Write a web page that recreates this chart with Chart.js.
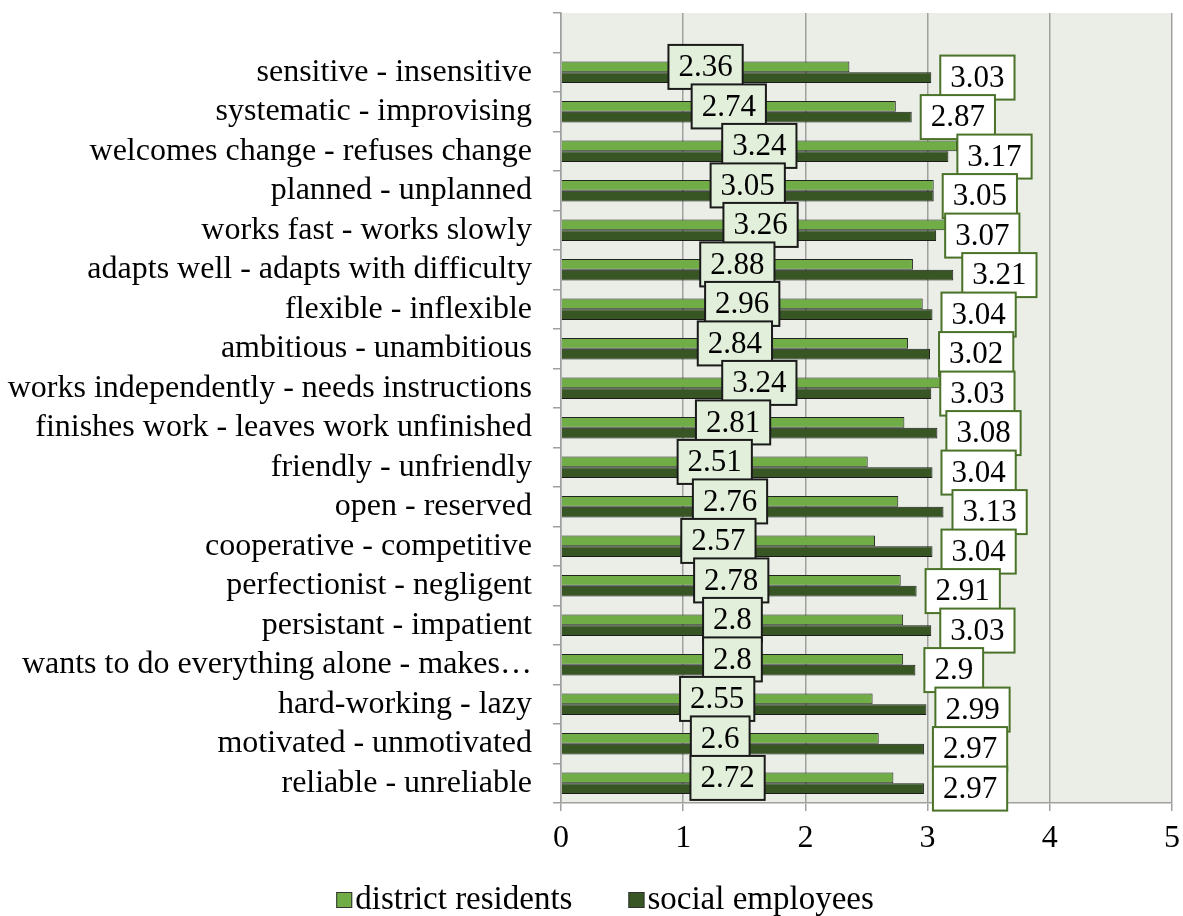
<!DOCTYPE html>
<html lang="en">
<head>
<meta charset="utf-8">
<title>Traits chart</title>
<script src="https://cdn.jsdelivr.net/npm/chart.js@4.4.1/dist/chart.umd.min.js"></script>
<style>
  html, body { margin: 0; padding: 0; background: #fff; }
  #wrap { width: 1183px; height: 916px; position: relative; }
</style>
</head>
<body>
<div id="wrap"><canvas id="chart"></canvas></div>
<script>
// Category labels, top to bottom (first one is the empty slot above the bars)
const traits = [
  '',
  'sensitive - insensitive',
  'systematic - improvising',
  'welcomes change - refuses change',
  'planned - unplanned',
  'works fast - works slowly',
  'adapts well - adapts with difficulty',
  'flexible - inflexible',
  'ambitious - unambitious',
  'works independently - needs instructions',
  'finishes work - leaves work unfinished',
  'friendly - unfriendly',
  'open - reserved',
  'cooperative - competitive',
  'perfectionist - negligent',
  'persistant - impatient',
  'wants to do everything alone - makes…',
  'hard-working - lazy',
  'motivated - unmotivated',
  'reliable - unreliable',
];

const residents = [null, 2.36, 2.74, 3.24, 3.05, 3.26, 2.88, 2.96, 2.84, 3.24,
  2.81, 2.51, 2.76, 2.57, 2.78, 2.8, 2.8, 2.55, 2.6, 2.72];
const employees = [null, 3.03, 2.87, 3.17, 3.05, 3.07, 3.21, 3.04, 3.02, 3.03,
  3.08, 3.04, 3.13, 3.04, 2.91, 3.03, 2.9, 2.99, 2.97, 2.97];

const xTicks = [0, 1, 2, 3, 4, 5];
const seriesNames = ['district residents', 'social employees'];

const SERIF = "'Liberation Serif', 'Times New Roman', serif";
const GRID = '#a0a0a0';

/**
 * Paints the plot area background
 */
const plotBackground = {
  id: 'plotBackground',
  beforeDraw(chart) {
    const { ctx, chartArea } = chart;
    ctx.save();
    ctx.fillStyle = '#eaeee6';
    ctx.fillRect(chartArea.left, chartArea.top,
      chartArea.right - chartArea.left, chartArea.bottom - chartArea.top);
    ctx.restore();
  },
};

/**
 * Draws a boxed value label
 */
function drawBox(ctx, text, x, y, align, fill, stroke) {
  const padX = 10;
  const h = 44;
  const w = ctx.measureText(text).width + padX * 2;
  const left = align === 'center' ? x - w / 2 : x;
  ctx.fillStyle = fill;
  ctx.fillRect(left, y - h / 2, w, h);
  ctx.strokeStyle = stroke;
  ctx.lineWidth = 2;
  ctx.strokeRect(left, y - h / 2, w, h);
  ctx.fillStyle = '#000';
  ctx.fillText(text, left + w / 2, y + 1);
}

// Value boxes: residents centred on the bar, employees after the bar end
const valueBoxes = {
  id: 'valueBoxes',
  afterDatasetsDraw(chart) {
    const { ctx } = chart;
    ctx.save();
    ctx.font = `31px ${SERIF}`;
    ctx.textAlign = 'center';
    ctx.textBaseline = 'middle';

    chart.getDatasetMeta(0).data.forEach((bar, i) => {
      if (residents[i] === null) return;
      drawBox(ctx, String(residents[i]), (bar.base + bar.x) / 2, bar.y,
        'center', '#e2efda', '#1a1a1a');
    });
    chart.getDatasetMeta(1).data.forEach((bar, i) => {
      if (employees[i] === null) return;
      drawBox(ctx, String(employees[i]), bar.x + 9, bar.y,
        'left', '#ffffff', '#4a7229');
    });
    ctx.restore();
  },
};

// Legend under the axis, with the small gap between box and text
const bottomLegend = {
  id: 'bottomLegend',
  afterDraw(chart) {
    const { ctx } = chart;
    const box = 16;
    const gap = 3;
    const spacing = 56;
    const y = 900;
    ctx.save();
    ctx.font = `33px ${SERIF}`;
    ctx.textBaseline = 'middle';
    ctx.textAlign = 'left';

    const items = chart.data.datasets.map((ds) => ({
      text: ds.label,
      color: ds.backgroundColor,
      width: box + gap + ctx.measureText(ds.label).width,
    }));
    const total = items.reduce((s, it) => s + it.width, 0) + spacing * (items.length - 1);
    let x = 605 - total / 2;

    items.forEach((it) => {
      ctx.fillStyle = it.color;
      ctx.fillRect(x, y - box / 2, box, box);
      ctx.strokeStyle = '#333';
      ctx.lineWidth = 1;
      ctx.strokeRect(x + 0.5, y - box / 2 + 0.5, box - 1, box - 1);
      ctx.fillStyle = '#000';
      ctx.fillText(it.text, x + box + gap, y);
      x += it.width + spacing;
    });
    ctx.restore();
  },
};

const canvas = document.getElementById('chart');

const chart = new Chart(canvas.getContext('2d'), {
  type: 'bar',
  data: {
    labels: traits,
    datasets: [
      {
        label: seriesNames[0],
        data: residents,
        backgroundColor: '#70ad47',
        borderColor: '#222',
        borderWidth: 1,
      },
      {
        label: seriesNames[1],
        data: employees,
        backgroundColor: '#375623',
        borderColor: '#1a1a1a',
        borderWidth: 1,
      },
    ],
  },
  options: {
    indexAxis: 'y',
    responsive: true,
    maintainAspectRatio: false,
    animation: false,
    categoryPercentage: 0.54,
    barPercentage: 1.0,
    layout: {
      padding: { top: 13, right: 11, left: 0, bottom: 63 },
    },
    scales: {
      x: {
        min: 0,
        max: 5,
        afterBuildTicks(scale) {
          scale.ticks = xTicks.map((v) => ({ value: v }));
        },
        afterFit(scale) {
          scale.height = 50;
          scale.paddingLeft = 0;
          scale.paddingRight = 0;
        },
        grid: {
          color: GRID,
          lineWidth: 1.5,
          tickLength: 8,
        },
        border: { color: GRID, width: 1.5 },
        ticks: {
          color: '#000',
          padding: 8,
          font: { family: SERIF, size: 32 },
        },
      },
      y: {
        afterFit(scale) {
          scale.width = 561;
          scale.paddingTop = 0;
          scale.paddingBottom = 0;
        },
        grid: {
          color: GRID,
          lineWidth: 1.5,
          drawOnChartArea: false,
          tickLength: 8,
        },
        border: { color: GRID, width: 1.5 },
        ticks: {
          color: '#000',
          padding: 21,
          autoSkip: false,
          font: { family: SERIF, size: 32 },
        },
      },
    },
    plugins: {
      legend: { display: false },
      tooltip: { enabled: false },
    },
  },
  plugins: [plotBackground, valueBoxes, bottomLegend],
});
</script>
</body>
</html>
